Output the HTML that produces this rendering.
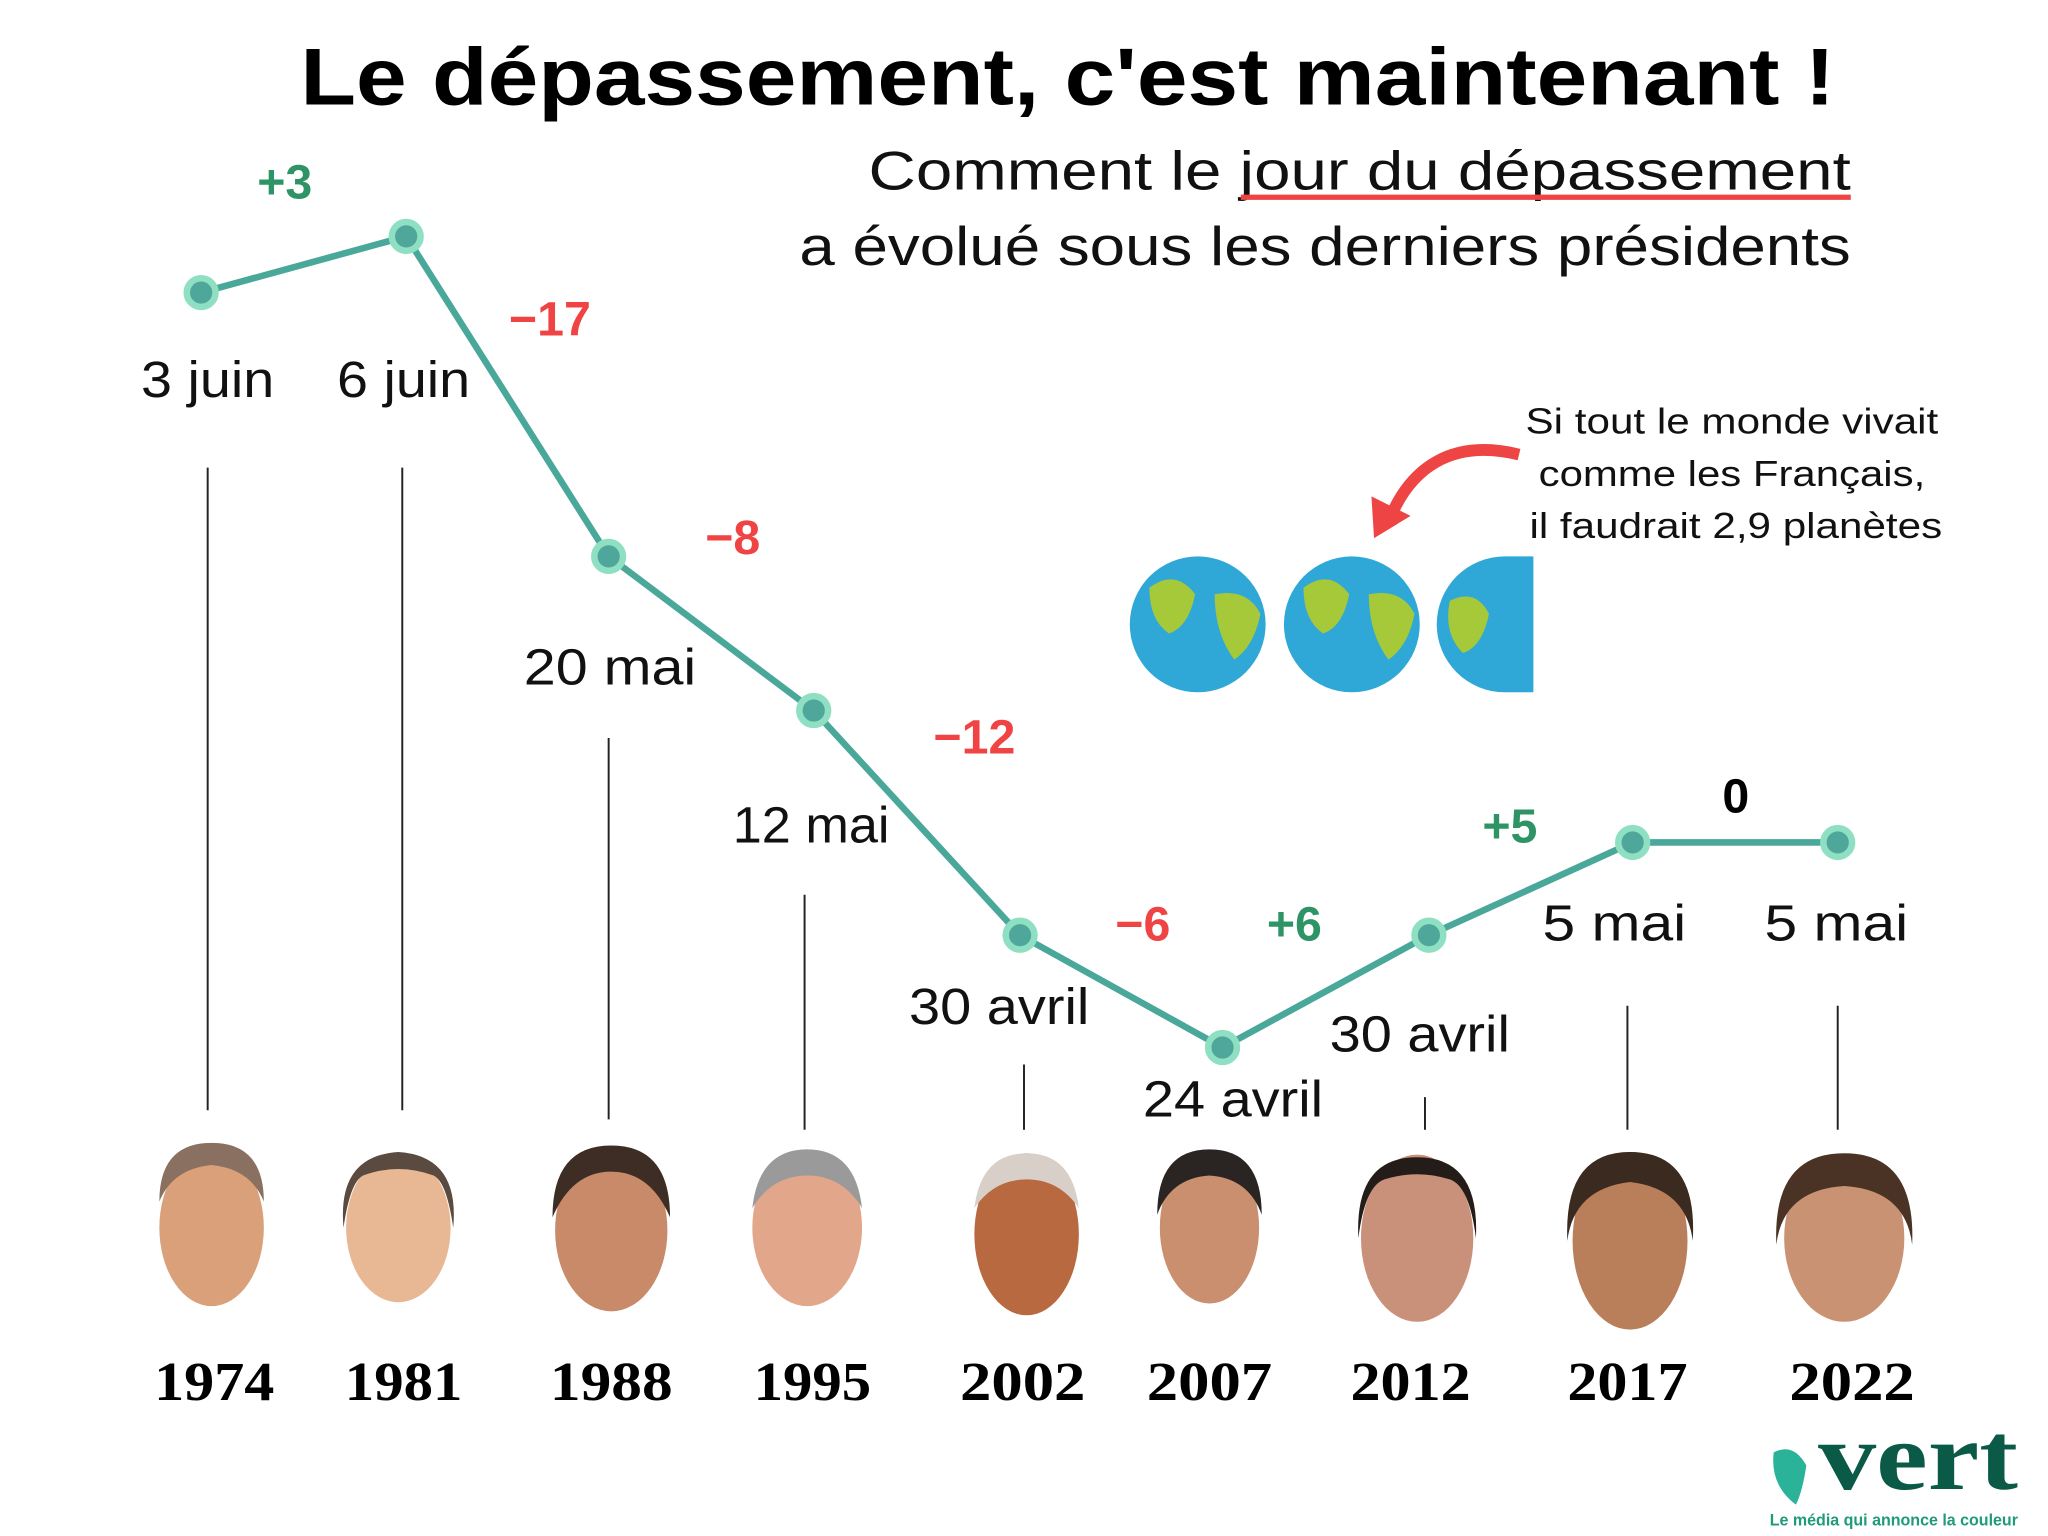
<!DOCTYPE html>
<html><head><meta charset="utf-8"><style>
html,body{margin:0;padding:0;background:#fff}
svg{display:block}
</style></head><body>
<svg width="2048" height="1536" viewBox="0 0 1568 1176" xmlns="http://www.w3.org/2000/svg">
<rect width="1568" height="1176" fill="#fff"/>
<text x="230" y="80" font-size="62" font-weight="bold" textLength="1175" lengthAdjust="spacingAndGlyphs" font-family="Liberation Sans" fill="#000">Le dépassement, c'est maintenant !</text>
<text x="665" y="145" font-size="42" textLength="752" lengthAdjust="spacingAndGlyphs" font-family="Liberation Sans" fill="#111">Comment le jour du dépassement</text>
<line x1="950" y1="151" x2="1417" y2="151" stroke="#ef4444" stroke-width="4"/>
<text x="612" y="203" font-size="42" textLength="805" lengthAdjust="spacingAndGlyphs" font-family="Liberation Sans" fill="#111">a évolué sous les derniers présidents</text>
<g stroke="#222" stroke-width="1.5">
<line x1="159" y1="358" x2="159" y2="850"/><line x1="308" y1="358" x2="308" y2="850"/>
<line x1="466" y1="565" x2="466" y2="857"/><line x1="616" y1="685" x2="616" y2="865"/>
<line x1="784" y1="815" x2="784" y2="865"/><line x1="1091" y1="840" x2="1091" y2="865"/>
<line x1="1246" y1="770" x2="1246" y2="865"/><line x1="1407" y1="770" x2="1407" y2="865"/>
</g>
<polyline points="154,224 311,181 466,426 623,544 781,716 936,802 1094,716 1250,645 1407,645" fill="none" stroke="#4aa89a" stroke-width="5"/>
<g fill="#4fa79c" stroke="#8fe0c2" stroke-width="5">
<circle cx="154" cy="224" r="11"/><circle cx="311" cy="181" r="11"/><circle cx="466" cy="426" r="11"/><circle cx="623" cy="544" r="11"/><circle cx="781" cy="716" r="11"/><circle cx="936" cy="802" r="11"/><circle cx="1094" cy="716" r="11"/><circle cx="1250" cy="645" r="11"/><circle cx="1407" cy="645" r="11"/>
</g>
<g font-family="Liberation Sans" font-size="39" fill="#111" text-anchor="middle" lengthAdjust="spacingAndGlyphs">
<text x="159" y="304" textLength="102" lengthAdjust="spacingAndGlyphs">3 juin</text><text x="309" y="304" textLength="102" lengthAdjust="spacingAndGlyphs">6 juin</text><text x="467" y="524" textLength="132" lengthAdjust="spacingAndGlyphs">20 mai</text><text x="621" y="645" textLength="120" lengthAdjust="spacingAndGlyphs">12 mai</text><text x="765" y="784" textLength="138" lengthAdjust="spacingAndGlyphs">30 avril</text><text x="944" y="855" textLength="138" lengthAdjust="spacingAndGlyphs">24 avril</text><text x="1087" y="805" textLength="138" lengthAdjust="spacingAndGlyphs">30 avril</text><text x="1236" y="720" textLength="110" lengthAdjust="spacingAndGlyphs">5 mai</text><text x="1406" y="720" textLength="110" lengthAdjust="spacingAndGlyphs">5 mai</text>
</g>
<g font-family="Liberation Sans" font-size="37" font-weight="bold" text-anchor="middle">
<text x="218" y="152" fill="#2e9466">+3</text><text x="421" y="257" fill="#f04444">−17</text><text x="561" y="424" fill="#f04444">−8</text><text x="746" y="577" fill="#f04444">−12</text><text x="875" y="720" fill="#f04444">−6</text><text x="991" y="720" fill="#2e9466">+6</text><text x="1156" y="645" fill="#2e9466">+5</text><text x="1329" y="622" fill="#000">0</text>
</g>
<g font-family="Liberation Sans" font-size="28" fill="#111" text-anchor="middle">
<text x="1326" y="332" textLength="316" lengthAdjust="spacingAndGlyphs">Si tout le monde vivait</text><text x="1326" y="372" textLength="296" lengthAdjust="spacingAndGlyphs">comme les Français,</text><text x="1329" y="412" textLength="316" lengthAdjust="spacingAndGlyphs">il faudrait 2,9 planètes</text>
</g>
<path d="M1163,348 C1110,335 1080,360 1065,395" fill="none" stroke="#ef4444" stroke-width="9"/>
<polygon points="1052,412 1050,380 1080,395" fill="#ef4444"/>
<g>
<circle cx="917" cy="478" r="52" fill="#2fa8d8"/><path d="M880,450 q20,-15 35,5 q-5,25 -20,30 q-15,-10 -15,-35z M930,455 q25,-5 35,15 q-5,25 -20,35 q-15,-20 -15,-50z" fill="#a6c93a"/>
<circle cx="1035" cy="478" r="52" fill="#2fa8d8"/><path d="M998,450 q20,-15 35,5 q-5,25 -20,30 q-15,-10 -15,-35z M1048,455 q25,-5 35,15 q-5,25 -20,35 q-15,-20 -15,-50z" fill="#a6c93a"/>
<path d="M1152,426 a52,52 0 0 0 0,104 l22,0 l0,-104z" fill="#2fa8d8"/><path d="M1110,460 q20,-10 30,10 q-5,25 -20,30 q-15,-15 -10,-40z" fill="#a6c93a"/>
</g>
<g>
<g transform="translate(162,940)"><ellipse rx="40" ry="60" fill="#d9a07a"/><path d="M-40,-20 q0,-45 40,-45 q40,0 40,45 q-10,-25 -40,-28 q-30,3 -40,28z" fill="#8a7060"/></g>
<g transform="translate(305,940)"><ellipse rx="40" ry="57" fill="#e8b894"/><path d="M-42,0 q-5,-55 42,-58 q47,3 42,58 q-5,-35 -15,-40 q-27,-10 -54,0 q-10,5 -15,40z" fill="#5a4a40"/></g>
<g transform="translate(468,942)"><ellipse rx="43" ry="62" fill="#c98a6a"/><path d="M-45,-10 q0,-55 45,-55 q45,0 45,55 q-15,-35 -45,-35 q-30,0 -45,35z" fill="#3d2d25"/></g>
<g transform="translate(618,940)"><ellipse rx="42" ry="60" fill="#e2a68a"/><path d="M-42,-15 q5,-45 42,-45 q37,0 42,45 q-15,-25 -42,-25 q-27,0 -42,25z" fill="#9a9a9a"/></g>
<g transform="translate(786,945)"><ellipse rx="40" ry="62" fill="#b8693f"/><path d="M-40,-20 q5,-42 40,-42 q35,0 40,42 q-15,-22 -40,-22 q-25,0 -40,22z" fill="#d8d0c8"/></g>
<g transform="translate(926,940)"><ellipse rx="38" ry="58" fill="#c98f6e"/><path d="M-40,-10 q0,-50 40,-50 q40,0 40,50 q-10,-28 -40,-30 q-30,2 -40,30z" fill="#2a2522"/></g>
<g transform="translate(1085,948)"><ellipse rx="43" ry="64" fill="#c9917a"/><path d="M-45,0 q-3,-62 45,-62 q48,0 45,62 q-5,-40 -20,-45 q-25,-8 -50,0 q-15,5 -20,45z" fill="#231c18"/></g>
<g transform="translate(1248,950)"><ellipse rx="44" ry="68" fill="#b97f5a"/><path d="M-48,0 q-3,-68 48,-68 q52,0 48,68 q-5,-40 -48,-45 q-43,5 -48,45z" fill="#3a2a20"/></g>
<g transform="translate(1412,948)"><ellipse rx="46" ry="64" fill="#c99272"/><path d="M-52,5 q-3,-70 52,-70 q55,0 52,70 q-5,-42 -52,-45 q-47,3 -52,45z" fill="#4a3325"/></g>
</g>
<g font-family="Liberation Serif" font-size="42" font-weight="bold" fill="#000" text-anchor="middle">
<text x="164" y="1072" textLength="92" lengthAdjust="spacingAndGlyphs">1974</text><text x="309" y="1072" textLength="90" lengthAdjust="spacingAndGlyphs">1981</text><text x="468" y="1072" textLength="94" lengthAdjust="spacingAndGlyphs">1988</text><text x="622" y="1072" textLength="90" lengthAdjust="spacingAndGlyphs">1995</text><text x="783" y="1072" textLength="96" lengthAdjust="spacingAndGlyphs">2002</text><text x="926" y="1072" textLength="96" lengthAdjust="spacingAndGlyphs">2007</text><text x="1080" y="1072" textLength="92" lengthAdjust="spacingAndGlyphs">2012</text><text x="1246" y="1072" textLength="92" lengthAdjust="spacingAndGlyphs">2017</text><text x="1418" y="1072" textLength="96" lengthAdjust="spacingAndGlyphs">2022</text>
</g>
<path d="M1358,1112 q15,-8 25,10 q-3,20 -8,30 q-20,-15 -17,-40z" fill="#2bb39a"/>
<text x="1392" y="1140" font-family="Liberation Serif" font-size="74" font-weight="bold" textLength="153" lengthAdjust="spacingAndGlyphs" fill="#0b5a47">vert</text>
<text x="1450" y="1168" font-family="Liberation Sans" font-size="12.5" font-weight="bold" fill="#1f9a7a" text-anchor="middle" textLength="190" lengthAdjust="spacingAndGlyphs">Le média qui annonce la couleur</text>
</svg>
</body></html>
